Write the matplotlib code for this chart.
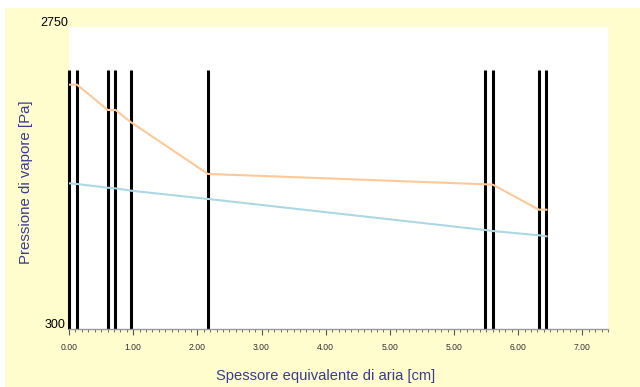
import matplotlib
matplotlib.use("Agg")
import matplotlib.pyplot as plt
from matplotlib.patches import Rectangle
from matplotlib.ticker import MultipleLocator

# layer boundaries (axis units, one unit per labelled tick)
layer_x = [0.0, 0.125, 0.604, 0.724, 0.967, 2.164, 6.485, 6.605, 7.323, 7.441]

# saturation pressure and actual vapour pressure [Pa]
p_sat = [2282, 2282, 2077, 2077, 1977, 1558, 1474, 1471, 1268, 1268]
p_vap = [1482, 1476, 1446, 1441, 1422, 1355, 1103, 1095, 1060, 1052]

tick_labels = ["0.00", "1.00", "2.00", "3.00", "4.00", "5.00", "5.00", "6.00", "7.00"]
y_min, y_max = 300, 2750
line_top = 2400

W, H = 640, 387
fig = plt.figure(figsize=(W / 100, H / 100), dpi=100)
fig.patch.set_facecolor("white")

# yellow panel behind the chart
fig.patches.append(Rectangle((5 / W, 0), 1, 1 - 8 / H, transform=fig.transFigure,
                             facecolor="#fffcce", edgecolor="none", zorder=-10))

ax = fig.add_axes([69 / W, 58 / H, (608 - 69) / W, (329 - 27) / H])
ax.set_facecolor("white")

# vertical layer lines
for x in layer_x:
    ax.plot([x, x], [y_min, line_top], color="black", lw=2.2, solid_capstyle="butt",
            clip_on=False, zorder=2)

ax.plot(layer_x, p_sat, color="#ffc898", lw=1.5, zorder=3)
ax.plot(layer_x, p_vap, color="#acd8e4", lw=1.5, zorder=3)

ax.set_xlim(0, 8.40)
ax.set_ylim(y_min, y_max)

for s in ["top", "right", "left"]:
    ax.spines[s].set_visible(False)
ax.spines["bottom"].set_color("#999999")
ax.spines["bottom"].set_linewidth(1.0)

ax.set_xticks(range(len(tick_labels)))
ax.set_xticklabels(tick_labels, fontsize=6.2, color="#333333", family="Liberation Sans")
ax.xaxis.set_minor_locator(MultipleLocator(0.1))
ax.tick_params(axis="x", which="major", length=4, width=0.8, color="#555555", pad=6)
ax.tick_params(axis="x", which="minor", length=2, width=0.6, color="#555555")

ax.set_yticks([])
ax.text(-0.01, 2780, "2750", transform=ax.transData, ha="right", va="center",
        fontsize=9, family="Liberation Sans", color="black", clip_on=False)
ax.text(-0.06, 330, "300", transform=ax.transData, ha="right", va="center",
        fontsize=9, family="Liberation Sans", color="black", clip_on=False)

fig.text(26 / W, 1 - 182 / H, "Pressione di vapore [Pa]", rotation=90, ha="center",
         va="center", fontsize=10.8, color="#3a3a92", family="Liberation Sans")
fig.text(326 / W, 1 - 376 / H, "Spessore equivalente di aria [cm]", ha="center",
         va="center", fontsize=10.6, color="#3a3a92", family="Liberation Sans")

fig.savefig("out.png", dpi=100, facecolor=fig.get_facecolor())
